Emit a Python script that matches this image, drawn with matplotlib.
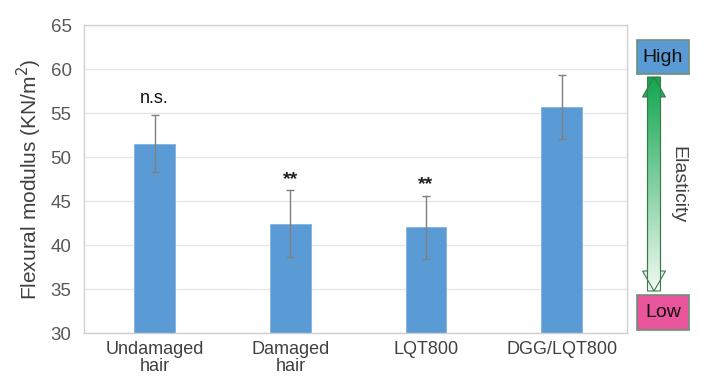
import numpy as np
import matplotlib
matplotlib.use("Agg")
import matplotlib.pyplot as plt
from matplotlib.patches import FancyArrow, Rectangle
from matplotlib.colors import LinearSegmentedColormap

plt.rcParams['font.family'] = ['Liberation Sans', 'DejaVu Sans']

categories = ["Undamaged\nhair", "Damaged\nhair", "LQT800", "DGG/LQT800"]
values = [51.5, 42.4, 42.0, 55.7]
errors = [3.25, 3.8, 3.55, 3.65]
marks = ["n.s.", "**", "**", ""]

W, H = 719, 387
fig = plt.figure(figsize=(W / 100, H / 100), dpi=100)
ax = fig.add_axes([84 / W, 1 - 333 / H, (627 - 84) / W, (333 - 25) / H])

x = np.arange(len(categories))
ax.bar(x, values, width=0.3, color="#5b9bd5", edgecolor="#7fb2e0", linewidth=0.6, zorder=2)
ax.errorbar(x, values, yerr=errors, fmt="none", ecolor="#7f7f7f", elinewidth=1.0,
            capsize=3, capthick=1.0, zorder=3)
for xi, v, e, m in zip(x, values, errors, marks):
    if not m:
        continue
    if m == "**":
        ax.text(xi, v + e + 0.3, m, ha="center", va="bottom", fontsize=14,
                fontweight="bold", color="#222222")
    else:
        ax.text(xi, v + e + 0.9, m, ha="center", va="bottom", fontsize=13, color="#111111")

ax.set_xlim(-0.52, 3.48)
ax.set_ylim(30, 65)
ax.set_yticks(np.arange(30, 66, 5))
ax.set_xticks(x)
ax.set_xticklabels(categories, fontsize=13, color="#404040", linespacing=0.95)
ax.tick_params(axis="y", labelsize=13.5, colors="#595959", length=0, pad=9)
ax.tick_params(axis="x", length=0, pad=6)
ax.grid(axis="y", color="#e6e6e6", linewidth=1.0, zorder=0)
for s in ax.spines.values():
    s.set_color("#d0d0d0")
    s.set_linewidth(1.0)
ax.set_ylabel("Flexural modulus (KN/m$^2$)", fontsize=15, color="#404040", labelpad=5)

# right-side elasticity indicator in pixel coordinates
rax = fig.add_axes([0, 0, 1, 1])
rax.set_xlim(0, W)
rax.set_ylim(H, 0)
rax.axis("off")

rax.add_patch(Rectangle((637, 40), 52, 34, facecolor="#5b9bd5", edgecolor="#6f8f7a", linewidth=1.2))
rax.text(663, 57.5, "High", ha="center", va="center", fontsize=14, color="#111111")
rax.add_patch(Rectangle((637, 295), 52, 35, facecolor="#e8559a", edgecolor="#6f8f7a", linewidth=1.2))
rax.text(663, 312.5, "Low", ha="center", va="center", fontsize=14, color="#111111")

shaft_w, head_w, head_l = 13, 23, 20
arrow = FancyArrow(654, 77, 0, 214, width=shaft_w, head_width=head_w, head_length=head_l,
                   length_includes_head=True, facecolor="none", edgecolor="none")
arrow2 = FancyArrow(654, 291, 0, -214, width=shaft_w, head_width=head_w, head_length=head_l,
                    length_includes_head=True, facecolor="none", edgecolor="none")
cmap = LinearSegmentedColormap.from_list("g", ["#12a650", "#f2faf2"])
grad = np.linspace(0, 1, 256).reshape(-1, 1)
for a in (arrow, arrow2):
    rax.add_patch(a)
    im = rax.imshow(grad, cmap=cmap, extent=(640, 668, 291, 77), aspect="auto", zorder=2)
    im.set_clip_path(a)
    rax.fill(*np.array(a.get_xy()).T, facecolor="none", edgecolor="#3c7a4e", linewidth=0.8, zorder=3)
rax.set_xlim(0, W)
rax.set_ylim(H, 0)

rax.text(678, 185, "Elasticity", rotation=-90, ha="center", va="center", fontsize=14, color="#404040")

fig.savefig("out.png", dpi=100)
